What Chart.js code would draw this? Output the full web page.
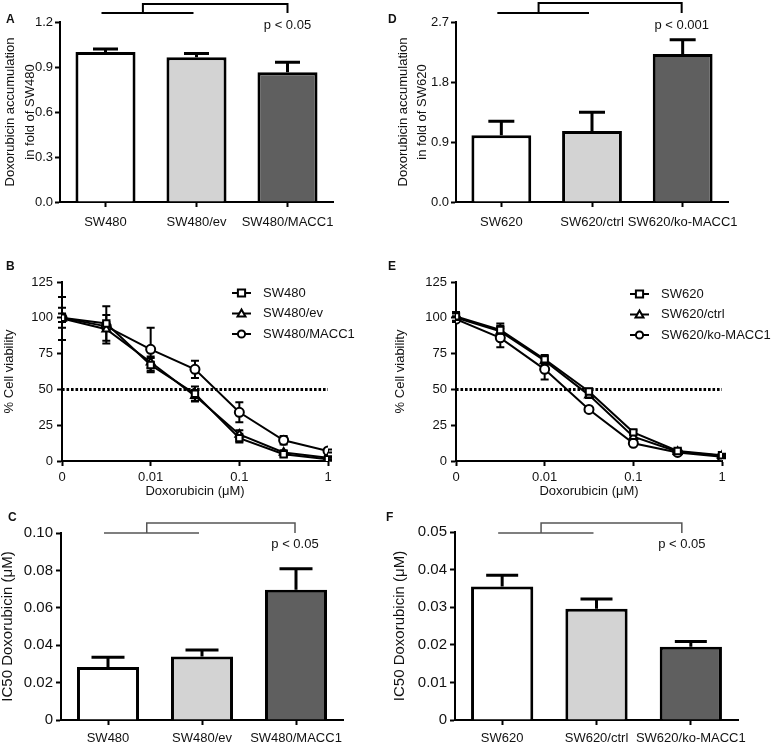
<!DOCTYPE html>
<html>
<head>
<meta charset="utf-8">
<script src="https://cdn.jsdelivr.net/npm/chart.js@4.4.0/dist/chart.umd.min.js"></script>
<style>
  body { margin: 0; background: #fff; width: 771px; height: 746px; position: relative; overflow: hidden; font-family: "Liberation Sans", Arial, sans-serif; }
  .panel { position: absolute; }
  .letter { position: absolute; font-weight: bold; font-size: 12px; line-height: 12px; color: #111; }
</style>
</head>
<body>
<div class="panel" style="left:0;top:0;width:385px;height:240px"><canvas id="chartA"></canvas></div>
<div class="panel" style="left:385px;top:0;width:386px;height:240px"><canvas id="chartD"></canvas></div>
<div class="panel" style="left:0;top:240px;width:385px;height:262px"><canvas id="chartB"></canvas></div>
<div class="panel" style="left:385px;top:240px;width:386px;height:262px"><canvas id="chartE"></canvas></div>
<div class="panel" style="left:0;top:490px;width:385px;height:256px"><canvas id="chartC"></canvas></div>
<div class="panel" style="left:385px;top:490px;width:386px;height:256px"><canvas id="chartF"></canvas></div>
<div class="letter" style="left:6px;top:13px">A</div>
<div class="letter" style="left:388px;top:13px">D</div>
<div class="letter" style="left:6px;top:260px">B</div>
<div class="letter" style="left:388px;top:260px">E</div>
<div class="letter" style="left:8px;top:511px">C</div>
<div class="letter" style="left:386px;top:511px">F</div>
<script>
// cell lines
const lines480 = ['SW480', 'SW480/ev', 'SW480/MACC1'];
const lines620 = ['SW620', 'SW620/ctrl', 'SW620/ko-MACC1'];

// A / D: doxorubicin accumulation (fold of parent line), mean and upper error
const accum480 = [1.0, 0.965, 0.865];
const accum480Err = [0.02, 0.025, 0.067];
const accum620 = [1.0, 1.065, 2.22];
const accum620Err = [0.21, 0.28, 0.215];

// C / F: IC50 doxorubicin (uM)
const ic50_480 = [0.0283, 0.0339, 0.0696];
const ic50_480Err = [0.0053, 0.0036, 0.0113];
const ic50_620 = [0.0355, 0.0296, 0.0195];
const ic50_620Err = [0.003, 0.0026, 0.0014];

// B / E: dose response, first dose is 0 (drawn at the left end of the log axis)
const doses = [0.001, 0.00316, 0.01, 0.0316, 0.1, 0.316, 1];
const doseTicks = [0.001, 0.01, 0.1, 1];
const doseTickLabels = ['0', '0.01', '0.1', '1'];

const viab480 = [100, 96, 67, 47, 16, 4.7, 1.2];
const viab480Err = [7, 12, 5, 5, 3, 1.5, 1];
const viab480ev = [99.5, 92, 69, 45.5, 18.5, 6, 2.3];
const viab480evErr = [15, 10, 4, 4, 3, 1.5, 1];
const viab480macc = [100, 94, 78, 64, 34, 14.5, 7];
const viab480maccErr = [3, 3, 15, 6, 7, 3, 1];

const viab620 = [101, 91.5, 71, 48.5, 20, 7, 4];
const viab620Err = [3, 4.5, 3, 2, 1.5, 1, 1];
const viab620ctrl = [100, 90.5, 70, 46, 17, 6.5, 3.7];
const viab620ctrlErr = [3, 4, 3, 2, 1.5, 1, 1];
const viab620ko = [99, 86, 64, 36, 12.4, 6, 3];
const viab620koErr = [2, 6.5, 7, 1.5, 1, 1, 1];

const barColors = ['#ffffff', '#d3d3d3', '#5f5f5f'];
const FONT = '"Liberation Sans", Arial, sans-serif';

Chart.defaults.font.family = FONT;
Chart.defaults.font.size = 13;
Chart.defaults.color = '#111';
Chart.defaults.animation = false;

// error bars, drawn before the marks so markers/bars sit on top
const errorBars = {
  id: 'errorBars',
  beforeDatasetsDraw(chart, args, o) {
    const ctx = chart.ctx;
    ctx.save();
    ctx.strokeStyle = '#000';
    ctx.lineWidth = o.width;
    chart.data.datasets.forEach((ds, i) => {
      if (!ds.errors) return;
      const meta = chart.getDatasetMeta(i);
      const y = chart.scales[meta.yAxisID];
      meta.data.forEach((el, j) => {
        const raw = ds.data[j];
        const v = typeof raw === 'object' ? raw.y : raw;
        const e = ds.errors[j];
        const yTop = y.getPixelForValue(v + e);
        const yBot = o.upOnly ? y.getPixelForValue(v) : y.getPixelForValue(v - e);
        ctx.beginPath();
        ctx.moveTo(el.x, yTop); ctx.lineTo(el.x, yBot);
        ctx.moveTo(el.x - o.cap, yTop); ctx.lineTo(el.x + o.cap, yTop);
        if (!o.upOnly) { ctx.moveTo(el.x - o.cap, yBot); ctx.lineTo(el.x + o.cap, yBot); }
        ctx.stroke();
      });
    });
    ctx.restore();
  }
};

// significance bracket above the bars
const bracket = {
  id: 'bracket',
  afterDraw(chart, args, o) {
    const x = chart.scales.x, top = chart.chartArea.top, ctx = chart.ctx;
    const a = x.getPixelForValue(0) - 4, b = x.getPixelForValue(1) - 3;
    const c = x.getPixelForValue(2) + o.shift;
    const m = a + (b - a) * 0.45;
    ctx.save();
    ctx.strokeStyle = o.color;
    ctx.lineWidth = o.width;
    ctx.beginPath();
    ctx.moveTo(a, top + o.low); ctx.lineTo(b, top + o.low);
    ctx.moveTo(m, top + o.low); ctx.lineTo(m, top + o.high);
    ctx.lineTo(c, top + o.high); ctx.lineTo(c, top + o.low);
    ctx.stroke();
    ctx.fillStyle = '#111';
    ctx.font = '13px ' + FONT;
    ctx.textAlign = 'center';
    ctx.textBaseline = 'middle';
    ctx.fillText(o.text, c, top + o.textY);
    ctx.restore();
  }
};

function drawMarker(ctx, style, x, y, r) {
  ctx.beginPath();
  if (style === 'rect') {
    ctx.rect(x - r, y - r, 2 * r, 2 * r);
  } else if (style === 'triangle') {
    ctx.moveTo(x, y - r * 1.1);
    ctx.lineTo(x + r * 1.1, y + r * 0.8);
    ctx.lineTo(x - r * 1.1, y + r * 0.8);
    ctx.closePath();
  } else {
    ctx.arc(x, y, r, 0, Math.PI * 2);
  }
  ctx.fill();
  ctx.stroke();
}

// legend: short line with marker, then label
const lineLegend = {
  id: 'lineLegend',
  afterDraw(chart, args, o) {
    const ctx = chart.ctx, ca = chart.chartArea;
    ctx.save();
    ctx.font = '13px ' + FONT;
    ctx.textBaseline = 'middle';
    ctx.textAlign = 'left';
    let row = 0;
    chart.data.datasets.forEach(ds => {
      if (!ds.label) return;
      const x0 = ca.left + o.dx, y0 = ca.top + o.dy + row * o.gap;
      ctx.strokeStyle = '#000';
      ctx.lineWidth = 2;
      ctx.beginPath();
      ctx.moveTo(x0, y0); ctx.lineTo(x0 + 19, y0);
      ctx.stroke();
      ctx.fillStyle = '#fff';
      drawMarker(ctx, ds.pointStyle, x0 + 9.5, y0, 3.6);
      ctx.fillStyle = '#111';
      ctx.fillText(ds.label, x0 + 31, y0);
      row++;
    });
    ctx.restore();
  }
};

function axisY(cfg) {
  return {
    min: 0,
    max: cfg.yMax,
    afterFit: s => { s.width = cfg.yWidth; },
    border: { display: true, color: '#000', width: 2 },
    grid: { drawOnChartArea: false, drawTicks: true, tickLength: 5, tickWidth: 2, tickColor: '#000' },
    ticks: { stepSize: cfg.yStep, padding: cfg.tickPad, font: { size: cfg.tickSize }, callback: cfg.fmt },
    title: { display: true, text: cfg.title, font: { size: cfg.titleSize, lineHeight: cfg.titleLine }, padding: { top: cfg.titlePad, bottom: 0 } }
  };
}

function barChart(id, cats, values, errors, cfg) {
  return new Chart(document.getElementById(id), {
    type: 'bar',
    data: {
      labels: cats,
      datasets: [{
        data: values,
        errors: errors,
        backgroundColor: barColors,
        borderColor: '#000',
        borderWidth: 3,
        categoryPercentage: 1,
        barPercentage: 0.66
      }]
    },
    options: {
      responsive: true,
      maintainAspectRatio: false,
      layout: { padding: { left: 0, top: cfg.padTop, right: cfg.padRight, bottom: 0 } },
      plugins: {
        legend: { display: false },
        tooltip: { enabled: false },
        errorBars: { upOnly: true, cap: cfg.cap, width: 3 },
        bracket: cfg.bracket
      },
      scales: {
        x: {
          afterFit: s => { s.height = cfg.xHeight; },
          border: { display: true, color: '#000', width: 2 },
          grid: { offset: false, drawOnChartArea: false, drawTicks: true, tickLength: 5, tickWidth: 2, tickColor: '#000' },
          ticks: { padding: cfg.catPad, maxRotation: 0, autoSkip: false, font: { size: 13 } }
        },
        y: axisY(cfg)
      }
    },
    plugins: [errorBars, bracket]
  });
}

function series(label, style, vals, errs) {
  return {
    label: label,
    data: doses.map((d, i) => ({ x: d, y: vals[i] })),
    errors: errs,
    borderColor: '#000',
    borderWidth: 2,
    pointStyle: style,
    pointRadius: 4.5,
    pointBorderWidth: 2,
    pointBackgroundColor: '#fff',
    pointBorderColor: '#000'
  };
}

function doseChart(id, sets, cfg) {
  const half = {
    label: '',
    data: [{ x: doseTicks[0], y: 50 }, { x: doseTicks[3], y: 50 }],
    borderColor: '#000',
    borderWidth: 3,
    borderDash: [2.6, 1.9],
    pointRadius: 0
  };
  return new Chart(document.getElementById(id), {
    type: 'line',
    data: { datasets: sets.concat([half]) },
    options: {
      responsive: true,
      maintainAspectRatio: false,
      layout: { padding: { left: 0, top: cfg.padTop, right: cfg.padRight, bottom: 0 } },
      plugins: {
        legend: { display: false },
        tooltip: { enabled: false },
        errorBars: { upOnly: false, cap: 4, width: 2 },
        lineLegend: cfg.legend
      },
      scales: {
        x: {
          type: 'logarithmic',
          min: doseTicks[0],
          max: doseTicks[3],
          afterFit: s => { s.height = cfg.xHeight; },
          afterBuildTicks: s => { s.ticks = doseTicks.map(v => ({ value: v })); },
          border: { display: true, color: '#000', width: 2 },
          grid: { drawOnChartArea: false, drawTicks: true, tickLength: 5, tickWidth: 2, tickColor: '#000' },
          ticks: { padding: 4, maxRotation: 0, autoSkip: false, callback: (v, i) => doseTickLabels[i] },
          title: { display: true, text: 'Doxorubicin (\u03bcM)', font: { size: 13 }, padding: { top: 0, bottom: 3 } }
        },
        y: axisY(cfg)
      }
    },
    plugins: [errorBars, lineLegend]
  });
}

const fmt1 = v => v.toFixed(1);
const fmt2 = v => (v === 0 ? '0' : v.toFixed(2));
const fmtInt = v => String(Math.round(v));

barChart('chartA', lines480, accum480, accum480Err, {
  yWidth: 60, padTop: 22, padRight: 52, xHeight: 38, yMax: 1.2, yStep: 0.3, fmt: fmt1,
  tickPad: 2, tickSize: 13, catPad: 8, cap: 12.5,
  title: ['Doxorubicin accumulation', 'in fold of SW480'], titleSize: 13, titleLine: '20px', titlePad: 0,
  bracket: { text: 'p < 0.05', low: -9, high: -18, textY: 3, shift: 0, color: '#000', width: 2 }
});

barChart('chartD', lines620, accum620, accum620Err, {
  yWidth: 71, padTop: 22, padRight: 43, xHeight: 38, yMax: 2.7, yStep: 0.9, fmt: fmt1,
  tickPad: 2, tickSize: 13, catPad: 8, cap: 13,
  title: ['Doxorubicin accumulation', 'in fold of SW620'], titleSize: 13, titleLine: '19px', titlePad: 9,
  bracket: { text: 'p < 0.001', low: -9, high: -19, textY: 3, shift: -1, color: '#000', width: 2 }
});

doseChart('chartB', [
  series('SW480', 'rect', viab480, viab480Err),
  series('SW480/ev', 'triangle', viab480ev, viab480evErr),
  series('SW480/MACC1', 'circle', viab480macc, viab480maccErr)
], {
  yWidth: 62, padTop: 42, padRight: 57, xHeight: 41, yMax: 125, yStep: 25, fmt: fmtInt,
  tickPad: 4, tickSize: 13, title: '% Cell viability', titleSize: 13, titleLine: 1.2, titlePad: 2,
  legend: { dx: 170, dy: 11, gap: 20.5 }
});

doseChart('chartE', [
  series('SW620', 'rect', viab620, viab620Err),
  series('SW620/ctrl', 'triangle', viab620ctrl, viab620ctrlErr),
  series('SW620/ko-MACC1', 'circle', viab620ko, viab620koErr)
], {
  yWidth: 71, padTop: 42, padRight: 49, xHeight: 41, yMax: 125, yStep: 25, fmt: fmtInt,
  tickPad: 4, tickSize: 13, title: '% Cell viability', titleSize: 13, titleLine: 1.2, titlePad: 8,
  legend: { dx: 174, dy: 12, gap: 20.5 }
});

barChart('chartC', lines480, ic50_480, ic50_480Err, {
  yWidth: 61, padTop: 43, padRight: 42, xHeight: 26, yMax: 0.1, yStep: 0.02, fmt: fmt2,
  tickPad: 3, tickSize: 15, catPad: 6, cap: 16.5,
  title: 'IC50 Doxorubicin (\u03bcM)', titleSize: 15, titleLine: 1, titlePad: 0,
  bracket: { text: 'p < 0.05', low: 0, high: -10, textY: 11, shift: -1, color: '#555', width: 1.5 }
});

barChart('chartF', lines620, ic50_620, ic50_620Err, {
  yWidth: 70, padTop: 42, padRight: 33, xHeight: 26, yMax: 0.05, yStep: 0.01, fmt: fmt2,
  tickPad: 3, tickSize: 15, catPad: 6, cap: 16,
  title: 'IC50 Doxorubicin (\u03bcM)', titleSize: 15, titleLine: 1, titlePad: 7.5,
  bracket: { text: 'p < 0.05', low: 1, high: -9, textY: 12, shift: -9, color: '#555', width: 1.5 }
});
</script>
</body>
</html>
